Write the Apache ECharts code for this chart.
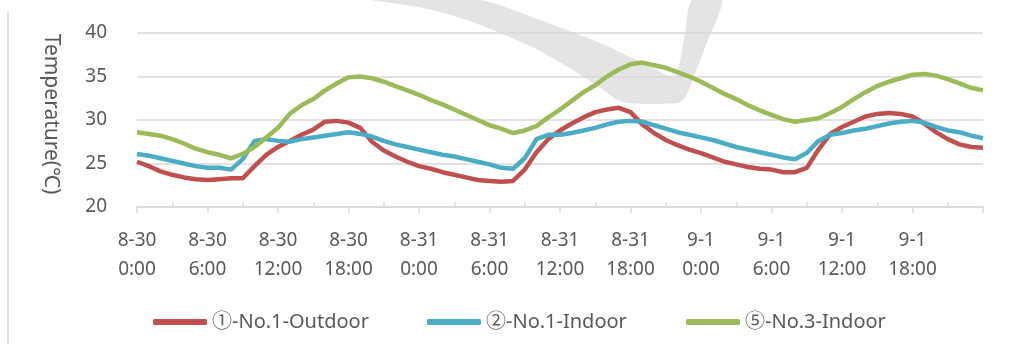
<!DOCTYPE html>
<html>
<head>
<meta charset="utf-8">
<script src="https://cdn.jsdelivr.net/npm/echarts@6/dist/echarts.min.js"></script>
<style>
  html, body { margin: 0; padding: 0; background: #fff; }
</style>
</head>
<body>
<div id="main" style="width: 1020px;height:356px;"></div>

<script type="text/javascript">
  // hours since 8-30 0:00, one reading per hour
  var hours = [];
  for (var i = 0; i <= 72; i++) hours.push(i);

  var tickLabels = ['8-30\n0:00', '8-30\n6:00', '8-30\n12:00', '8-30\n18:00',
                    '8-31\n0:00', '8-31\n6:00', '8-31\n12:00', '8-31\n18:00',
                    '9-1\n0:00', '9-1\n6:00', '9-1\n12:00', '9-1\n18:00'];

  var seriesNames = ['①-No.1-Outdoor', '②-No.1-Indoor', '⑤-No.3-Indoor'];

  var outdoor1 = [25.2, 24.7, 24.1, 23.7, 23.4, 23.2, 23.1, 23.2, 23.3, 23.3,
                  24.7, 26.0, 26.9, 27.6, 28.3, 28.9, 29.8, 29.9, 29.7, 29.1,
                  27.5, 26.5, 25.8, 25.2, 24.7, 24.4, 24.0, 23.7, 23.4, 23.1,
                  23.0, 22.9, 23.0, 24.3, 26.3, 27.8, 28.8, 29.6, 30.3, 30.9,
                  31.2, 31.4, 30.9, 29.5, 28.5, 27.7, 27.1, 26.6, 26.2, 25.7,
                  25.2, 24.9, 24.6, 24.4, 24.3, 24.0, 24.0, 24.5, 26.6, 28.4,
                  29.2, 29.8, 30.4, 30.7, 30.8, 30.7, 30.4, 29.6, 28.6, 27.8,
                  27.2, 26.9, 26.8];

  var indoor1 = [26.1, 25.9, 25.6, 25.3, 25.0, 24.7, 24.5, 24.5, 24.3, 25.5,
                 27.6, 27.8, 27.6, 27.5, 27.8, 28.0, 28.2, 28.4, 28.6, 28.4,
                 28.1, 27.6, 27.2, 26.9, 26.6, 26.3, 26.0, 25.8, 25.5, 25.2,
                 24.9, 24.5, 24.4, 25.6, 27.8, 28.3, 28.3, 28.5, 28.8, 29.1,
                 29.5, 29.8, 29.9, 29.8, 29.4, 29.0, 28.6, 28.3, 28.0, 27.7,
                 27.3, 26.9, 26.6, 26.3, 26.0, 25.7, 25.5, 26.2, 27.6, 28.3,
                 28.5, 28.8, 29.0, 29.3, 29.6, 29.8, 29.9, 29.7, 29.2, 28.8,
                 28.6, 28.2, 27.9];

  var indoor3 = [28.6, 28.4, 28.2, 27.8, 27.3, 26.7, 26.3, 26.0, 25.6, 26.1,
                 26.9, 28.0, 29.1, 30.7, 31.7, 32.4, 33.4, 34.2, 34.9, 35.0,
                 34.8, 34.4, 33.9, 33.4, 32.9, 32.3, 31.8, 31.2, 30.6, 30.0,
                 29.4, 29.0, 28.5, 28.8, 29.3, 30.3, 31.2, 32.2, 33.2, 34.0,
                 35.0, 35.8, 36.4, 36.6, 36.3, 36.0, 35.5, 35.0, 34.4, 33.7,
                 33.0, 32.4, 31.7, 31.1, 30.6, 30.1, 29.8, 30.0, 30.2, 30.8,
                 31.5, 32.4, 33.2, 33.9, 34.4, 34.8, 35.2, 35.3, 35.1, 34.7,
                 34.2, 33.7, 33.4];

  var colors = ['#c0504d', '#4bacc6', '#9bbb59'];
  var minorTicks = [3, 9, 15, 21, 27, 33, 39, 45, 51, 57, 63, 69];

  function pairs(vals) {
    return vals.map(function (v, i) { return [hours[i], v]; });
  }

  var font = "'Noto Sans', 'Noto Sans CJK SC', sans-serif";
  var textGrey = '#595959';
  var lineGrey = '#d9d9d9';

  // one legend block per series so each sits where the reference has it
  var legendLeft = [148, 422, 681];
  var legends = seriesNames.map(function (name, i) {
    return {
      left: legendLeft[i],
      top: 307,
      itemWidth: 54,
      itemHeight: 6,
      icon: 'roundRect',
      textStyle: { color: textGrey, fontSize: 20, fontFamily: font },
      data: [name]
    };
  });

  var option = {
    animation: false,
    color: colors,
    textStyle: { fontFamily: font },
    grid: { left: 137, right: 37, top: 33, bottom: 149 },
    graphic: [
      {
        // faint grey stroke in the background
        type: 'polygon',
        z: -10,
        shape: {
          smooth: 0.25,
          points: [[370, 0], [480, 0], [540, 20], [600, 43], [645, 64], [674, 76],
                   [684, 40], [692, 0], [722, 0], [706, 45], [686, 96], [678, 103],
                   [622, 102], [598, 86], [568, 67], [538, 50], [498, 32], [458, 17],
                   [418, 7], [385, 2]]
        },
        style: { fill: '#e4e4e4' }
      },
      {
        type: 'line',
        z: -10,
        shape: { x1: 8, y1: 11, x2: 8, y2: 344 },
        style: { stroke: lineGrey, lineWidth: 1.5 }
      }
    ],
    legend: legends,
    xAxis: [
      {
        type: 'value',
        min: 0,
        max: 72,
        interval: 6,
        axisLine: { lineStyle: { color: lineGrey, width: 1.5 } },
        axisTick: { show: true, length: 6, lineStyle: { color: lineGrey, width: 1.5 } },
        splitLine: { show: false },
        axisLabel: {
          color: textGrey,
          fontSize: 19,
          fontFamily: font,
          margin: 19,
          lineHeight: 29,
          formatter: function (v) {
            var k = Math.round(v / 6);
            return k < tickLabels.length ? tickLabels[k] : '';
          }
        }
      },
      {
        type: 'value',
        min: 0,
        max: 72,
        position: 'bottom',
        axisLine: { show: false },
        axisLabel: { show: false },
        splitLine: { show: false },
        axisTick: {
          show: true,
          inside: true,
          length: 5,
          customValues: minorTicks,
          lineStyle: { color: lineGrey, width: 1.5 }
        }
      }
    ],
    yAxis: {
      type: 'value',
      min: 20,
      max: 40,
      interval: 5,
      name: 'Temperature(℃)',
      nameLocation: 'middle',
      nameRotate: -90,
      nameGap: 76,
      nameTextStyle: { color: textGrey, fontSize: 21, fontFamily: font, padding: [0, 12, 0, 0] },
      axisLine: { show: false },
      axisTick: { show: false },
      splitLine: { lineStyle: { color: lineGrey, width: 1.5 } },
      axisLabel: { color: textGrey, fontSize: 19, fontFamily: font, margin: 30 }
    },
    series: [
      {
        name: seriesNames[0],
        type: 'line',
        showSymbol: false,
        lineStyle: { width: 4.5 },
        data: pairs(outdoor1)
      },
      {
        name: seriesNames[1],
        type: 'line',
        showSymbol: false,
        lineStyle: { width: 4.5 },
        data: pairs(indoor1)
      },
      {
        name: seriesNames[2],
        type: 'line',
        showSymbol: false,
        lineStyle: { width: 4.5 },
        data: pairs(indoor3)
      }
    ]
  };

  var myChart = echarts.init(document.getElementById('main'));
  myChart.setOption(option);
</script>
</body>
</html>
